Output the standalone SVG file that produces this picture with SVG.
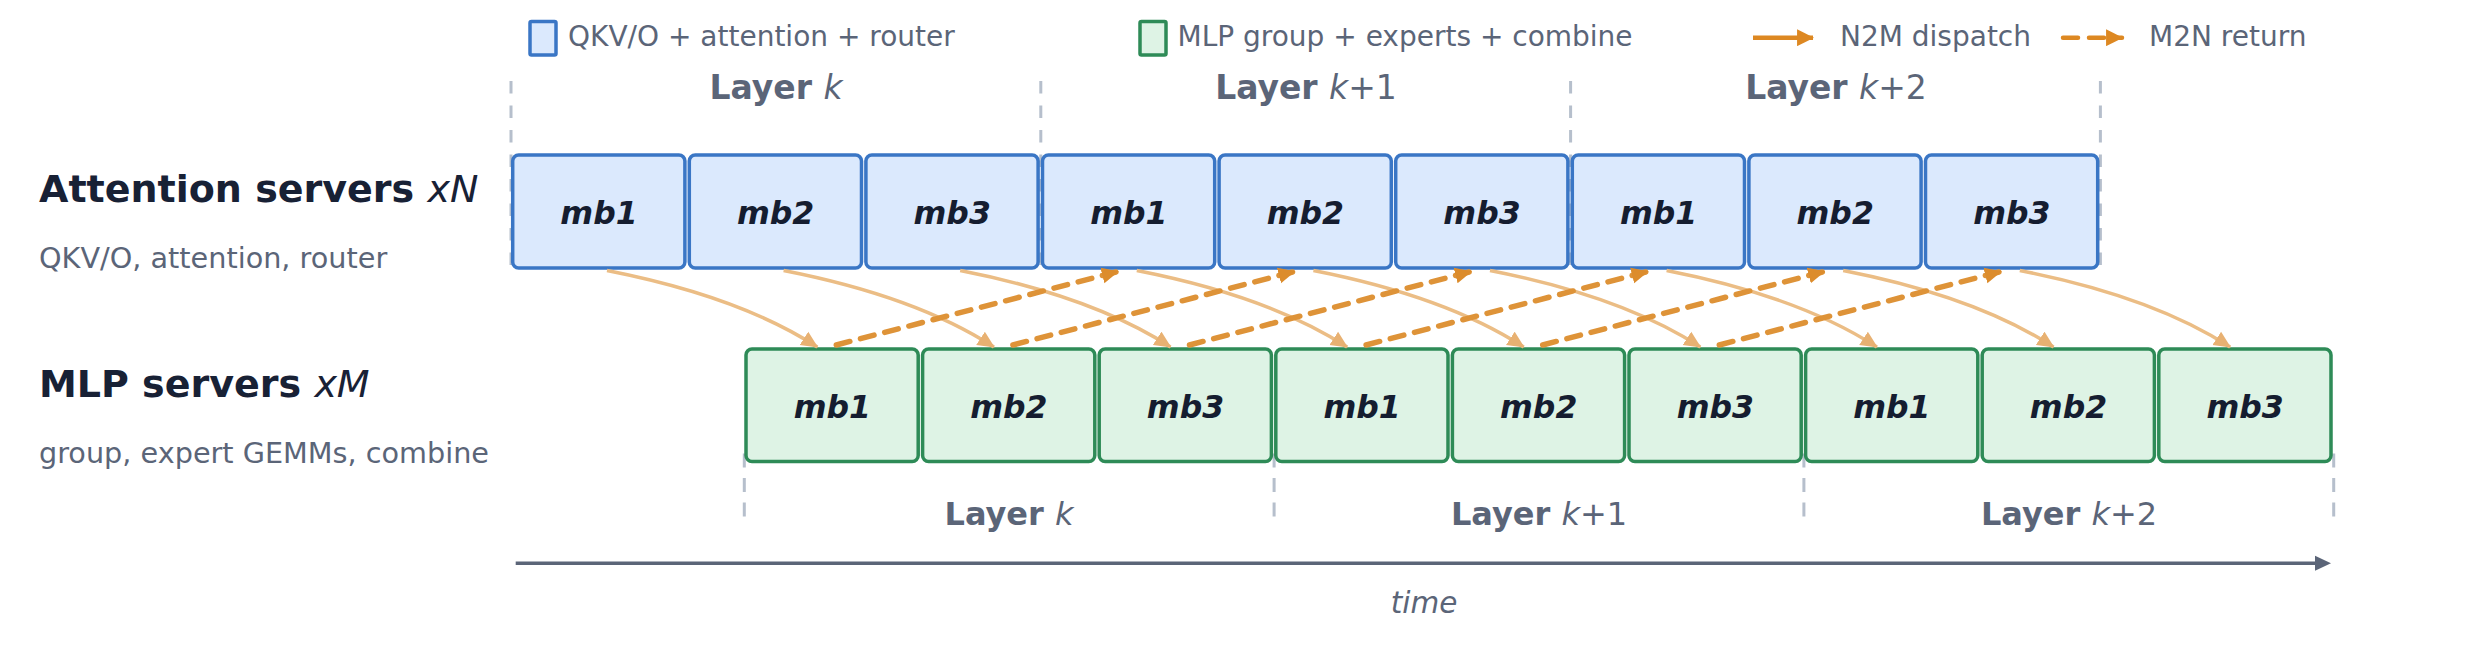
<svg xmlns="http://www.w3.org/2000/svg" width="2470" height="667" viewBox="0 0 2470 667">
<defs>
<style>
text{font-family:"DejaVu Sans","Liberation Sans",sans-serif;}
.att{fill:#dbe9fd;stroke:#3a76c5;stroke-width:3.5;}
.mlp{fill:#def3e5;stroke:#2e8b57;stroke-width:3.5;}
.mb{font-size:31.5px;font-weight:bold;font-style:italic;fill:#151d30;text-anchor:middle;}
.head{font-size:38px;font-weight:bold;fill:#182135;}
.sub{font-size:28.7px;fill:#5b6578;}
.leg{font-size:28px;fill:#5b6578;}
.layer{font-size:33px;font-weight:bold;fill:#5b6578;text-anchor:middle;}
.layerb{font-size:32px;font-weight:bold;fill:#5b6578;text-anchor:middle;}
.it{font-style:italic;font-weight:normal;}
.div{stroke:#b6bfcc;stroke-width:3;fill:none;}
.sol{fill:none;stroke:#ebbd85;stroke-width:3.5;}
.dsh{fill:none;stroke:#de9338;stroke-width:5.5;stroke-dasharray:14 11;stroke-linecap:round;}
</style>
<marker id="hs" markerUnits="userSpaceOnUse" markerWidth="17" markerHeight="17" viewBox="0 0 16 16" refX="15" refY="8" orient="auto">
<path d="M0,0.5 L16,8 L0,15.5 z" fill="#e8b172"/>
</marker>
<marker id="hd" markerUnits="userSpaceOnUse" markerWidth="17" markerHeight="17" viewBox="0 0 16 16" refX="15" refY="8" orient="auto">
<path d="M0,0.5 L16,8 L0,15.5 z" fill="#dc8c2c"/>
</marker>
<marker id="hl" markerUnits="userSpaceOnUse" markerWidth="17" markerHeight="17" viewBox="0 0 16 16" refX="15" refY="8" orient="auto">
<path d="M0,0 L16,8 L0,16 z" fill="#dd8822"/>
</marker>
</defs>
<rect width="2470" height="667" fill="#ffffff"/>

<g id="legend">
<rect x="530" y="21.5" width="26" height="33.5" rx="1.5" class="att"/>
<text x="568" y="45.5" class="leg">QKV/O + attention + router</text>
<rect x="1140" y="21.5" width="26" height="33.5" rx="1.5" class="mlp"/>
<text x="1177.5" y="45.5" class="leg">MLP group + experts + combine</text>
<line x1="1753" y1="37.7" x2="1813" y2="37.7" stroke="#dd8822" stroke-width="4.5" marker-end="url(#hl)"/>
<text x="1840" y="45.5" class="leg">N2M dispatch</text>
<line x1="2063" y1="37.7" x2="2122" y2="37.7" stroke="#dd8822" stroke-width="4.5" stroke-dasharray="15 11" stroke-linecap="round" marker-end="url(#hl)"/>
<text x="2149" y="45.5" class="leg">M2N return</text>
</g>

<g id="row-labels">
<text x="39" y="201.5" class="head">Attention servers <tspan class="it">xN</tspan></text>
<text x="39" y="267.5" class="sub">QKV/O, attention, router</text>
<text x="39" y="396.5" class="head">MLP servers <tspan class="it">xM</tspan></text>
<text x="39" y="463" class="sub">group, expert GEMMs, combine</text>
</g>

<g id="layer-dividers">
<line x1="511" y1="81" x2="511" y2="269" class="div" stroke-dasharray="12.5 12"/>
<line x1="1040.8" y1="81" x2="1040.8" y2="269" class="div" stroke-dasharray="12.5 12"/>
<line x1="1570.6" y1="81" x2="1570.6" y2="269" class="div" stroke-dasharray="12.5 12"/>
<line x1="2100.4" y1="81" x2="2100.4" y2="269" class="div" stroke-dasharray="12.5 12"/>
<line x1="744.3" y1="453.5" x2="744.3" y2="517" class="div" stroke-dasharray="14 10.5"/>
<line x1="1274.1" y1="453.5" x2="1274.1" y2="517" class="div" stroke-dasharray="14 10.5"/>
<line x1="1803.9" y1="453.5" x2="1803.9" y2="517" class="div" stroke-dasharray="14 10.5"/>
<line x1="2333.7" y1="453.5" x2="2333.7" y2="517" class="div" stroke-dasharray="14 10.5"/>
</g>

<g id="layer-labels">
<text x="776" y="99" class="layer">Layer <tspan class="it">k</tspan></text>
<text x="1306" y="99" class="layer">Layer <tspan class="it">k</tspan><tspan font-weight="normal">+1</tspan></text>
<text x="1836" y="99" class="layer">Layer <tspan class="it">k</tspan><tspan font-weight="normal">+2</tspan></text>
<text x="1009" y="525" class="layerb">Layer <tspan class="it">k</tspan></text>
<text x="1539" y="525" class="layerb">Layer <tspan class="it">k</tspan><tspan font-weight="normal">+1</tspan></text>
<text x="2069" y="525" class="layerb">Layer <tspan class="it">k</tspan><tspan font-weight="normal">+2</tspan></text>
</g>

<g id="attention-row">
<g id="att-k-mb1"><rect x="512.7" y="155" width="172.2" height="113" rx="6" class="att"/><text x="599" y="224" class="mb">mb1</text></g>
<g id="att-k-mb2"><rect x="689.3" y="155" width="172.2" height="113" rx="6" class="att"/><text x="775.6" y="224" class="mb">mb2</text></g>
<g id="att-k-mb3"><rect x="865.9" y="155" width="172.2" height="113" rx="6" class="att"/><text x="952.2" y="224" class="mb">mb3</text></g>
<g id="att-k1-mb1"><rect x="1042.5" y="155" width="172.2" height="113" rx="6" class="att"/><text x="1128.8" y="224" class="mb">mb1</text></g>
<g id="att-k1-mb2"><rect x="1219.1" y="155" width="172.2" height="113" rx="6" class="att"/><text x="1305.4" y="224" class="mb">mb2</text></g>
<g id="att-k1-mb3"><rect x="1395.7" y="155" width="172.2" height="113" rx="6" class="att"/><text x="1482" y="224" class="mb">mb3</text></g>
<g id="att-k2-mb1"><rect x="1572.3" y="155" width="172.2" height="113" rx="6" class="att"/><text x="1658.6" y="224" class="mb">mb1</text></g>
<g id="att-k2-mb2"><rect x="1748.9" y="155" width="172.2" height="113" rx="6" class="att"/><text x="1835.2" y="224" class="mb">mb2</text></g>
<g id="att-k2-mb3"><rect x="1925.5" y="155" width="172.2" height="113" rx="6" class="att"/><text x="2011.8" y="224" class="mb">mb3</text></g>
</g>

<g id="mlp-row">
<g id="mlp-k-mb1"><rect x="746" y="349" width="172.2" height="112.5" rx="6" class="mlp"/><text x="832.3" y="417.5" class="mb">mb1</text></g>
<g id="mlp-k-mb2"><rect x="922.6" y="349" width="172.2" height="112.5" rx="6" class="mlp"/><text x="1008.9" y="417.5" class="mb">mb2</text></g>
<g id="mlp-k-mb3"><rect x="1099.2" y="349" width="172.2" height="112.5" rx="6" class="mlp"/><text x="1185.5" y="417.5" class="mb">mb3</text></g>
<g id="mlp-k1-mb1"><rect x="1275.8" y="349" width="172.2" height="112.5" rx="6" class="mlp"/><text x="1362.1" y="417.5" class="mb">mb1</text></g>
<g id="mlp-k1-mb2"><rect x="1452.4" y="349" width="172.2" height="112.5" rx="6" class="mlp"/><text x="1538.7" y="417.5" class="mb">mb2</text></g>
<g id="mlp-k1-mb3"><rect x="1629" y="349" width="172.2" height="112.5" rx="6" class="mlp"/><text x="1715.3" y="417.5" class="mb">mb3</text></g>
<g id="mlp-k2-mb1"><rect x="1805.6" y="349" width="172.2" height="112.5" rx="6" class="mlp"/><text x="1891.9" y="417.5" class="mb">mb1</text></g>
<g id="mlp-k2-mb2"><rect x="1982.2" y="349" width="172.2" height="112.5" rx="6" class="mlp"/><text x="2068.5" y="417.5" class="mb">mb2</text></g>
<g id="mlp-k2-mb3"><rect x="2158.8" y="349" width="172.2" height="112.5" rx="6" class="mlp"/><text x="2245.1" y="417.5" class="mb">mb3</text></g>
</g>

<g id="connectors">
<path class="sol" marker-end="url(#hs)" d="M607,270.5 Q739.5,296.5 817.3,347"/>
<path class="sol" marker-end="url(#hs)" d="M783.6,270.5 Q916.1,296.5 993.9,347"/>
<path class="sol" marker-end="url(#hs)" d="M960.2,270.5 Q1092.7,296.5 1170.5,347"/>
<path class="sol" marker-end="url(#hs)" d="M1136.8,270.5 Q1269.3,296.5 1347.1,347"/>
<path class="sol" marker-end="url(#hs)" d="M1313.4,270.5 Q1445.9,296.5 1523.7,347"/>
<path class="sol" marker-end="url(#hs)" d="M1490,270.5 Q1622.5,296.5 1700.3,347"/>
<path class="sol" marker-end="url(#hs)" d="M1666.6,270.5 Q1799.1,296.5 1876.9,347"/>
<path class="sol" marker-end="url(#hs)" d="M1843.2,270.5 Q1975.7,296.5 2053.5,347"/>
<path class="sol" marker-end="url(#hs)" d="M2019.8,270.5 Q2152.3,296.5 2230.1,347"/>
<path class="dsh" marker-end="url(#hd)" d="M836.3,345 L1117.8,271.5"/>
<path class="dsh" marker-end="url(#hd)" d="M1012.9,345 L1294.4,271.5"/>
<path class="dsh" marker-end="url(#hd)" d="M1189.5,345 L1471,271.5"/>
<path class="dsh" marker-end="url(#hd)" d="M1366.1,345 L1647.6,271.5"/>
<path class="dsh" marker-end="url(#hd)" d="M1542.7,345 L1824.2,271.5"/>
<path class="dsh" marker-end="url(#hd)" d="M1719.3,345 L2000.8,271.5"/>
</g>

<g id="time-axis">
<line x1="515.7" y1="563.3" x2="2318" y2="563.3" stroke="#5b6578" stroke-width="3.5"/>
<polygon points="2315,555.8 2331,563.3 2315,570.8" fill="#5b6578"/>
<text x="1424" y="613" font-size="29.5" font-style="italic" fill="#5b6578" text-anchor="middle">time</text>
</g>
</svg>
